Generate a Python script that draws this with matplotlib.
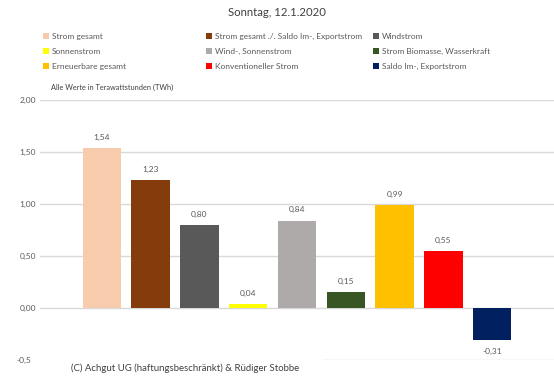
import matplotlib
matplotlib.use('Agg')
from matplotlib import pyplot as plt
from matplotlib.patches import Patch, Rectangle

plt.rcParams['font.family'] = ['Lato', 'DejaVu Sans']

# Daten
kategorien = ['Strom gesamt', 'Strom gesamt ./. Saldo Im-, Exportstrom', 'Windstrom',
              'Sonnenstrom', 'Wind-, Sonnenstrom', 'Strom Biomasse, Wasserkraft',
              'Erneuerbare gesamt', 'Konventioneller Strom', 'Saldo Im-, Exportstrom']
werte = [1.54, 1.23, 0.80, 0.04, 0.84, 0.15, 0.99, 0.55, -0.31]
farben = ['#F8CBAD', '#843C0C', '#595959', '#FFFF00', '#AEAAAA',
          '#375623', '#FFC000', '#FF0000', '#002060']
yticks = [-0.5, 0.0, 0.5, 1.0, 1.5, 2.0]
ytick_labels = ['-0,50', '0,00', '0,50', '1,00', '1,50', '2,00']

fig = plt.figure(figsize=(5.54, 3.82), dpi=100)
ax = fig.add_axes([40/554, 22/382, 514/554, 260/382])

x = list(range(len(werte)))
bars = ax.bar(x, werte, width=0.79, color=farben, zorder=3)

for xi, w in zip(x, werte):
    if w >= 0:
        ax.text(xi, w + 0.07, f'{w:.2f}'.replace('.', ','), ha='center', va='bottom',
                fontsize=6, color='#595959')
    else:
        ax.text(xi, w - 0.07, f'{w:.2f}'.replace('.', ','), ha='center', va='top',
                fontsize=6, color='#595959')

ax.set_xlim(-1.27, 9.27)
ax.set_ylim(-0.5, 2.0)
ax.set_yticks(yticks)
ax.set_yticklabels(ytick_labels, fontsize=6, color='#595959')
ax.set_xticks([])
ax.tick_params(axis='y', length=0, pad=3)
ax.grid(axis='y', color='#D9D9D9', linewidth=1, zorder=0)
for s in ax.spines.values():
    s.set_visible(False)

# Titel
fig.text(0.5, 1 - 13/382, 'Sonntag, 12.1.2020', ha='center', va='center',
         fontsize=8.2, color='#404040')

# Legende in drei Spalten
spalten_x = [43/554, 206/554, 373/554]
for c in range(3):
    idx = [c, c + 3, c + 6]
    handles = [Patch(facecolor=farben[i], edgecolor='none') for i in idx]
    labels = [kategorien[i] for i in idx]
    leg = fig.legend(handles, labels, loc='upper left',
                     bbox_to_anchor=(spalten_x[c], 1 - 33/382),
                     frameon=False, fontsize=6, handlelength=0.7, handleheight=0.7,
                     handletextpad=0.4, labelspacing=0.95, borderpad=0, borderaxespad=0)
    for t in leg.get_texts():
        t.set_color('#595959')

fig.text(51/554, 1 - 87/382, 'Alle Werte in Terawattstunden (TWh)', ha='left', va='center',
         fontsize=5.3, color='#404040')

# weisses Feld unter dem Copyright (verdeckt Teil der unteren Linie)
fig.patches.append(Rectangle((31/554, 0), (323 - 31)/554, 30/382, transform=fig.transFigure,
                             facecolor='white', edgecolor='none', zorder=5))
fig.text(71/554, 1 - 368/382, '(C) Achgut UG (haftungsbeschränkt) & Rüdiger Stobbe',
         ha='left', va='center', fontsize=6.9, color='#404040', zorder=6)

fig.savefig('out.png', dpi=100)
